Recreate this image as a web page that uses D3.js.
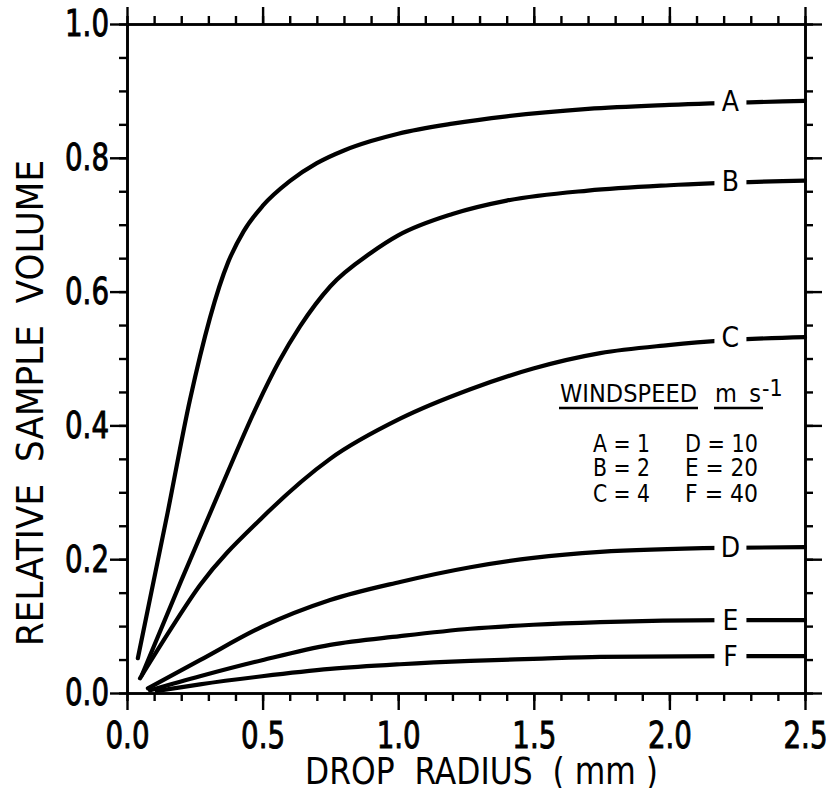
<!DOCTYPE html>
<html>
<head>
<meta charset="utf-8">
<script src="https://cdn.jsdelivr.net/npm/d3@7"></script>
<style>
  body { margin: 0; background: #fff; }
  text { font-family: "DejaVu Sans Condensed", "DejaVu Sans", sans-serif; fill: #000; }
</style>
</head>
<body>
<svg id="chart" width="830" height="788"></svg>
<script>
// Relative sample volume against drop radius (mm) for six wind speeds.
const curveA = [[0.04,0.052],[0.15,0.27],[0.232,0.438],[0.373,0.644],[0.43,0.69],[0.5,0.728],[0.6,0.765],[0.7,0.792],[0.8,0.811],[0.9,0.825],[1.0,0.836],[1.2,0.851],[1.4,0.862],[1.7,0.873],[2.0,0.879],[2.5,0.885]];
const curveB = [[0.055,0.027],[0.2,0.168],[0.35,0.31],[0.48,0.43],[0.56,0.495],[0.638,0.548],[0.75,0.608],[0.9,0.658],[1.0,0.684],[1.2,0.716],[1.4,0.736],[1.7,0.751],[2.0,0.759],[2.5,0.766]];
const curveC = [[0.048,0.022],[0.159,0.094],[0.269,0.161],[0.498,0.262],[0.749,0.35],[1.007,0.41],[1.266,0.454],[1.498,0.485],[1.745,0.508],[1.996,0.52],[2.2,0.527],[2.5,0.532]];
const curveD = [[0.077,0.007],[0.269,0.049],[0.498,0.099],[0.749,0.139],[1.007,0.166],[1.266,0.188],[1.498,0.202],[1.745,0.211],[2.2,0.217],[2.5,0.218]];
const curveE = [[0.085,0.004],[0.269,0.025],[0.498,0.049],[0.749,0.072],[1.007,0.085],[1.266,0.096],[1.498,0.102],[1.745,0.106],[2.2,0.109],[2.5,0.109]];
const curveF = [[0.11,0.003],[0.269,0.013],[0.498,0.025],[0.749,0.036],[1.007,0.043],[1.266,0.048],[1.498,0.051],[1.745,0.054],[2.2,0.055],[2.5,0.055]];

const seriesNames = ["A", "B", "C", "D", "E", "F"];
const windSpeeds = [1, 2, 4, 10, 20, 40];
const seriesData = [curveA, curveB, curveC, curveD, curveE, curveF];

const xMajorTicks = [0, 0.5, 1.0, 1.5, 2.0, 2.5];
const yMajorTicks = [0, 0.2, 0.4, 0.6, 0.8, 1.0];
const xMinorTicks = d3.range(0, 26).map(i => i / 10);
const yMinorTicks = d3.range(0, 21).map(i => i / 20);

const labelRadius = 2.225;   // where the series letters sit on each curve

const svg = d3.select("#chart");
const x = d3.scaleLinear().domain([0, 2.5]).range([127, 805]);
const y = d3.scaleLinear().domain([0, 1]).range([693, 24]);

const fmt = d3.format(".1f");
const MAJ = 17, MIN = 8;

function styleAxis(g) {
  g.selectAll("path.domain").attr("stroke", "#000").attr("stroke-width", 2.6);
  g.selectAll(".tick line").attr("stroke", "#000").attr("stroke-width", 2.4);
  g.selectAll(".tick text")
    .style("font-size", "37px")
    .attr("fill", "#000")
    .attr("stroke", "#000")
    .attr("stroke-width", 0.9)
    .attr("textLength", 44)
    .attr("lengthAdjust", "spacingAndGlyphs");
}

// minor ticks (no labels) on all four sides
svg.append("g").attr("transform", `translate(0,${y(0)})`)
  .call(d3.axisBottom(x).tickValues(xMinorTicks).tickSize(MIN).tickSizeOuter(0).tickFormat(""))
  .call(styleAxis);
svg.append("g").attr("transform", `translate(0,${y(1)})`)
  .call(d3.axisTop(x).tickValues(xMinorTicks).tickSize(MIN).tickSizeOuter(0).tickFormat(""))
  .call(styleAxis);
svg.append("g").attr("transform", `translate(${x(0)},0)`)
  .call(d3.axisLeft(y).tickValues(yMinorTicks).tickSize(MIN).tickSizeOuter(0).tickFormat(""))
  .call(styleAxis);
svg.append("g").attr("transform", `translate(${x(2.5)},0)`)
  .call(d3.axisRight(y).tickValues(yMinorTicks).tickSize(MIN).tickSizeOuter(0).tickFormat(""))
  .call(styleAxis);

// major ticks
svg.append("g").attr("transform", `translate(0,${y(0)})`)
  .call(d3.axisBottom(x).tickValues(xMajorTicks).tickSize(MAJ).tickSizeOuter(0).tickPadding(12).tickFormat(fmt))
  .call(styleAxis);
svg.append("g").attr("transform", `translate(0,${y(1)})`)
  .call(d3.axisTop(x).tickValues(xMajorTicks).tickSize(MAJ).tickSizeOuter(0).tickFormat(""))
  .call(styleAxis);
svg.append("g").attr("transform", `translate(${x(0)},0)`)
  .call(d3.axisLeft(y).tickValues(yMajorTicks).tickSize(MAJ).tickSizeOuter(0).tickPadding(1).tickFormat(fmt))
  .call(styleAxis);
svg.append("g").attr("transform", `translate(${x(2.5)},0)`)
  .call(d3.axisRight(y).tickValues(yMajorTicks).tickSize(MAJ).tickSizeOuter(0).tickFormat(""))
  .call(styleAxis);

// axis titles
svg.append("text")
  .attr("x", 305).attr("y", 784)
  .style("font-size", "38px")
  .attr("xml:space", "preserve")
  .attr("textLength", 353)
  .attr("lengthAdjust", "spacingAndGlyphs")
  .text("DROP  RADIUS  ( mm )");
svg.append("text")
  .attr("transform", "translate(43,646) rotate(-90)")
  .style("font-size", "38px")
  .attr("xml:space", "preserve")
  .attr("textLength", 486)
  .text("RELATIVE  SAMPLE  VOLUME");

// curves
const line = d3.line().x(d => x(d[0])).y(d => y(d[1])).curve(d3.curveMonotoneX);
svg.append("g").selectAll("path")
  .data(seriesData)
  .join("path")
  .attr("d", line)
  .attr("fill", "none")
  .attr("stroke", "#000")
  .attr("stroke-width", 4.2)
  .attr("stroke-linecap", "round")
  .attr("stroke-linejoin", "round");

// series letters, each set in a gap cut out of its curve
const endValue = d => d[d.length - 1][1];
const labels = svg.append("g").selectAll("g")
  .data(seriesData.map((d, i) => ({ name: seriesNames[i], v: endValue(d) })))
  .join("g")
  .attr("transform", d => `translate(${x(labelRadius)},${y(d.v)})`);
labels.append("rect")
  .attr("x", -16).attr("y", -9).attr("width", 32).attr("height", 18)
  .attr("fill", "#fff");
labels.append("text")
  .attr("text-anchor", "middle")
  .attr("dy", "0.36em")
  .style("font-size", "28px")
  .text(d => d.name);

// legend
const legend = svg.append("g");
legend.append("text").attr("x", 560).attr("y", 402).style("font-size", "25px")
  .attr("textLength", 137).text("WINDSPEED");
legend.append("line").attr("x1", 559).attr("x2", 698).attr("y1", 408).attr("y2", 408)
  .attr("stroke", "#000").attr("stroke-width", 2.4);
legend.append("text").attr("x", 715).attr("y", 402).style("font-size", "25px")
  .attr("xml:space", "preserve").attr("textLength", 46).text("m s");
legend.append("line").attr("x1", 714).attr("x2", 763).attr("y1", 408).attr("y2", 408)
  .attr("stroke", "#000").attr("stroke-width", 2.4);
legend.append("text").attr("x", 762).attr("y", 396).style("font-size", "23px").text("-1");

const rowBaselines = [452, 476, 502];
legend.selectAll("text.entry")
  .data(seriesNames.map((n, i) => ({ n, s: windSpeeds[i], col: Math.floor(i / 3), row: i % 3 })))
  .join("text")
  .attr("class", "entry")
  .attr("x", d => d.col === 0 ? 593 : 685)
  .attr("y", d => rowBaselines[d.row])
  .style("font-size", "25px")
  .attr("xml:space", "preserve")
  .attr("textLength", d => d.col === 0 ? 57 : 73)
  .attr("lengthAdjust", "spacingAndGlyphs")
  .text(d => `${d.n} = ${d.s}`);
</script>
</body>
</html>
